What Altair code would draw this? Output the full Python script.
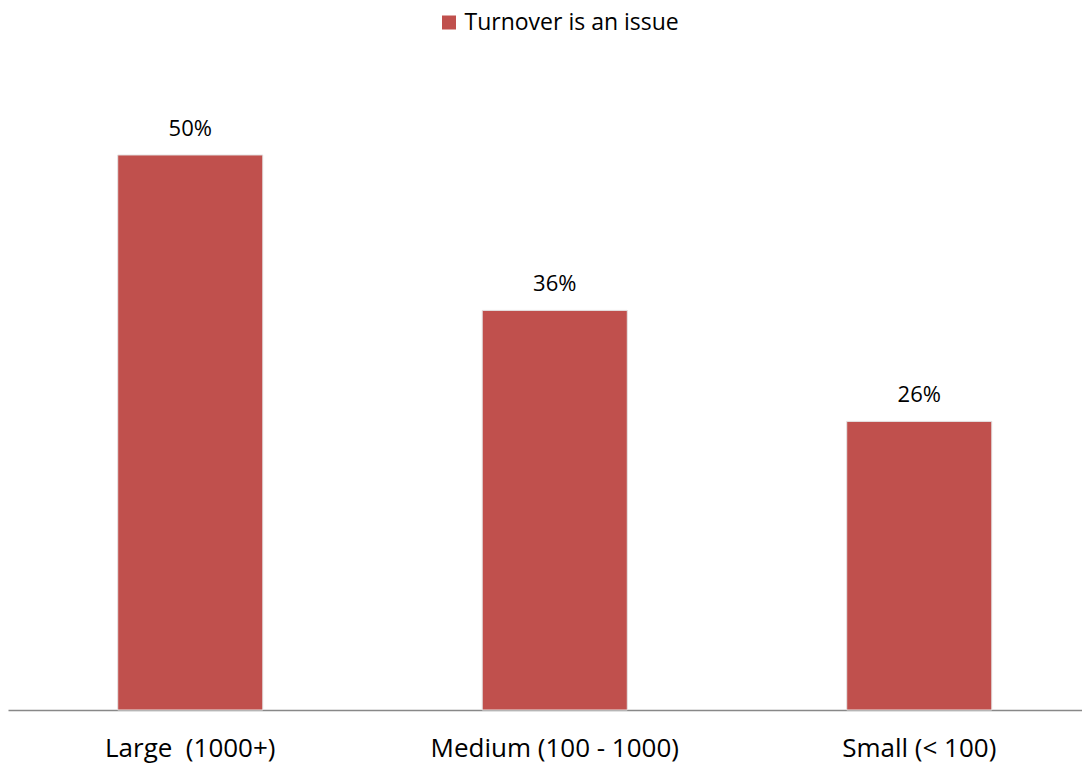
import altair as alt
import pandas as pd

categories = ["Large \u00a0(1000+)", "Medium (100 - 1000)", "Small (< 100)"]
values = [50, 36, 26]
labels = ["50%", "36%", "26%"]
series = "Turnover is an issue"

df = pd.DataFrame({"cat": categories, "val": values, "lab": labels, "series": [series] * 3})

FONT = "Open Sans"
RED = "#C0504D"

xscale = alt.Scale(range=[0, 1093.5], paddingInner=0.602, paddingOuter=0.301)
x = alt.X("cat:N", sort=categories, title=None, scale=xscale,
          axis=alt.Axis(labelAngle=0, ticks=False, tickSize=0, domainColor="#888888", domainWidth=1.5,
                        labelFont=FONT, labelFontSize=26, labelColor="#000000",
                        labelBaseline="alphabetic", labelPadding=46, labelLimit=0, grid=False))
y = alt.Y("val:Q", title=None, scale=alt.Scale(domain=[0, 63.24], nice=False), axis=None)

bars = alt.Chart(df).mark_bar(stroke="#e4e4e4", strokeWidth=1).encode(
    x=x, y=y,
    color=alt.Color("series:N", scale=alt.Scale(range=[RED]),
                    legend=alt.Legend(title=None, orient="none", legendX=429.5, legendY=3,
                                      symbolType="square", symbolSize=196, symbolStrokeWidth=0,
                                      labelFont=FONT, labelFontSize=23, labelColor="#000000",
                                      labelLimit=0, padding=0, labelOffset=4)),
)

text = alt.Chart(df).mark_text(font=FONT, fontSize=22, color="#000000", dy=-19,
                               baseline="alphabetic").encode(
    x=alt.X("cat:N", sort=categories, scale=xscale), y="val:Q", text="lab:N"
)

chart = alt.layer(bars, text).properties(
    width=1074, height=702,
    autosize=alt.AutoSizeParams(type="none"),
    padding={"left": 0, "top": 0, "right": 0, "bottom": 54},
).configure_view(stroke=None)

chart.save("out.html", embed_options={"renderer": "svg", "actions": False})
